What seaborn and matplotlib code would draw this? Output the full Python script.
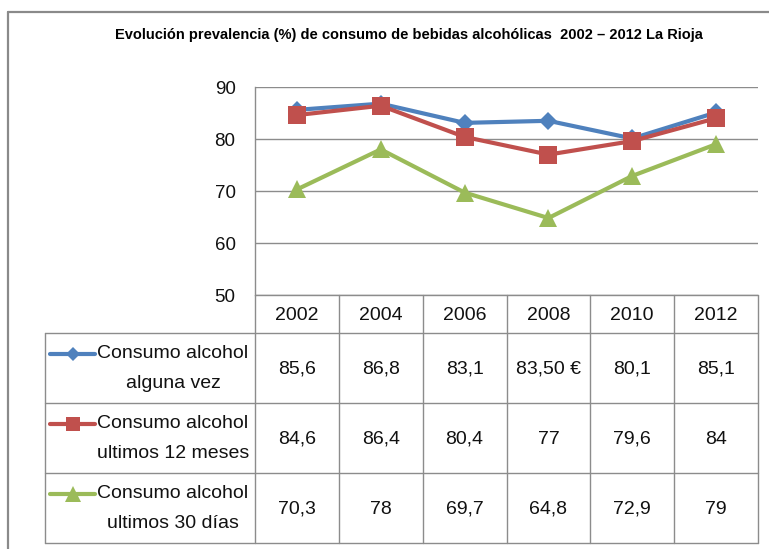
import matplotlib
matplotlib.use("Agg")
import matplotlib.pyplot as plt
from matplotlib.lines import Line2D
from matplotlib import font_manager
import seaborn as sns
import pandas as pd

# ---------------- data ----------------
years = ["2002", "2004", "2006", "2008", "2010", "2012"]
series_names = [
    "Consumo alcohol alguna vez",
    "Consumo alcohol ultimos 12 meses",
    "Consumo alcohol ultimos 30 días",
]
alguna_vez = [85.6, 86.8, 83.1, 83.5, 80.1, 85.1]
ultimos_12 = [84.6, 86.4, 80.4, 77.0, 79.6, 84.0]
ultimos_30 = [70.3, 78.0, 69.7, 64.8, 72.9, 79.0]
# texts shown in the data table (as printed in the original)
table_alguna_vez = ["85,6", "86,8", "83,1", "83,50 €", "80,1", "85,1"]
table_ultimos_12 = ["84,6", "86,4", "80,4", "77", "79,6", "84"]
table_ultimos_30 = ["70,3", "78", "69,7", "64,8", "72,9", "79"]
row_labels = ["Consumo alcohol\nalguna vez",
              "Consumo alcohol\nultimos 12 meses",
              "Consumo alcohol\nultimos 30 días"]
title = "Evolución prevalencia (%) de consumo de bebidas alcohólicas  2002 – 2012 La Rioja"
y_ticks = [50, 60, 70, 80, 90]

colors = ["#4F81BD", "#C0504D", "#9BBB59"]
markers = ["D", "s", "^"]
marker_sizes = [9, 13, 13]

# ---------------- style ----------------
sns.set_theme(style="white")
available = {f.name for f in font_manager.fontManager.ttflist}
base_font = "Liberation Sans" if "Liberation Sans" in available else "DejaVu Sans"
plt.rcParams["font.family"] = [base_font, "DejaVu Sans"]

W, H = 769, 549
fig = plt.figure(figsize=(W / 100, H / 100), dpi=100)
fig.patch.set_facecolor("white")


def fx(x):
    return x / W


def fy(y):
    return 1 - y / H


GRID = "#8C8C8C"

# plot area
L, R, T, B = 255, 758, 87, 295
ax = fig.add_axes([fx(L), fy(B), fx(R) - fx(L), fy(T) - fy(B)])

df = pd.DataFrame({
    "Año": years * 3,
    "valor": alguna_vez + ultimos_12 + ultimos_30,
    "serie": [series_names[0]] * 6 + [series_names[1]] * 6 + [series_names[2]] * 6,
})
sns.lineplot(data=df, x="Año", y="valor", hue="serie", style="serie",
             hue_order=series_names, style_order=series_names,
             palette=colors, markers=markers, dashes=False,
             linewidth=3, markersize=13, markeredgewidth=0,
             legend=False, sort=False, ax=ax)
for ln, ms in zip(ax.lines, marker_sizes):
    ln.set_markersize(ms)
    ln.set_markeredgewidth(0)
    ln.set_clip_on(False)

ax.set_xlim(-0.5, len(years) - 0.5)
ax.set_ylim(50, 90)
ax.set_yticks(y_ticks)
ax.set_xticks([])
ax.set_xlabel("")
ax.set_ylabel("")
ax.tick_params(axis="y", length=0, pad=14, labelsize=13.5, colors="#111111")
ax.grid(axis="y", color=GRID, linewidth=1.0)
ax.set_axisbelow(True)
for side in ["top", "right", "bottom"]:
    ax.spines[side].set_visible(False)
ax.spines["left"].set_color(GRID)
ax.spines["left"].set_linewidth(1.0)


def hline(x0, x1, y, lw=1.0, color=GRID):
    fig.add_artist(Line2D([fx(x0), fx(x1)], [fy(y), fy(y)], transform=fig.transFigure,
                          color=color, linewidth=lw))


def vline(x, y0, y1, lw=1.0, color=GRID):
    fig.add_artist(Line2D([fx(x), fx(x)], [fy(y0), fy(y1)], transform=fig.transFigure,
                          color=color, linewidth=lw))


# ---------------- data table ----------------
col_w = (R - L) / len(years)
col_x = [L + col_w * i for i in range(len(years) + 1)]
rows_y = [B, 333, 403, 473, 543]
LBL = 45

hline(L, R, B)
for y in rows_y[1:]:
    hline(LBL, R, y)
for x in col_x:
    vline(x, B, rows_y[-1])
vline(LBL, rows_y[1], rows_y[-1])

TXT = "#111111"
for i, yr in enumerate(years):
    fig.text(fx(col_x[i] + col_w / 2), fy((rows_y[0] + rows_y[1]) / 2 + 1), yr,
             ha="center", va="center", fontsize=14, color=TXT)

tables = [table_alguna_vez, table_ultimos_12, table_ultimos_30]
for r, vals in enumerate(tables):
    yc = (rows_y[r + 1] + rows_y[r + 2]) / 2 + 1
    for i, v in enumerate(vals):
        fig.text(fx(col_x[i] + col_w / 2), fy(yc), v,
                 ha="center", va="center", fontsize=14, color=TXT)
    # row label (two lines)
    line1, line2 = row_labels[r].split("\n")
    fig.text(fx(173), fy(yc - 15), line1, ha="center", va="center", fontsize=14, color=TXT)
    fig.text(fx(173), fy(yc + 15), line2, ha="center", va="center", fontsize=14, color=TXT)
    # legend key
    ky = yc - 15
    fig.add_artist(Line2D([fx(50), fx(95)], [fy(ky), fy(ky)], transform=fig.transFigure,
                          color=colors[r], linewidth=3))
    fig.add_artist(Line2D([fx(72.5)], [fy(ky)], transform=fig.transFigure,
                          color=colors[r], marker=markers[r],
                          markersize=[7.5, 10, 11][r], markeredgewidth=0, linestyle="none"))

# ---------------- title (fitted to the original width) ----------------
title_txt = fig.text(fx(408.5), fy(39.5), title, ha="center", va="baseline",
                     fontsize=10, fontweight="bold", color="#000000")
renderer = fig.canvas.get_renderer()
w_now = title_txt.get_window_extent(renderer=renderer).width
title_txt.set_fontsize(10 * 587.0 / w_now)

# ---------------- outer border ----------------
hline(8, W + 5, 12, lw=1.6, color="#8A8A8A")
vline(8, 12, H + 5, lw=1.6, color="#8A8A8A")

fig.savefig("out.png", dpi=100, facecolor="white")
